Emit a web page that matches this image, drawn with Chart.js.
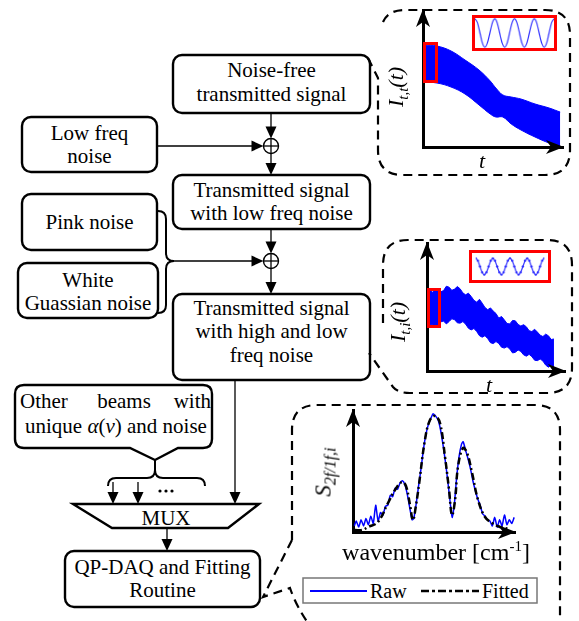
<!DOCTYPE html>
<html>
<head>
<meta charset="utf-8">
<script src="https://cdn.jsdelivr.net/npm/chart.js@4.4.1/dist/chart.umd.min.js"></script>
<style>
  body { margin: 0; background: #fff; }
  #page { position: relative; width: 579px; height: 621px; overflow: hidden; font-family: "Liberation Serif", Tinos, "Times New Roman", "DejaVu Serif", "Noto Serif", serif; }
  #page svg { position: absolute; left: 0; top: 0; font-family: "Liberation Serif", Tinos, "Times New Roman", "DejaVu Serif", "Noto Serif", serif; }
  #page canvas { position: absolute; }
  .lbl { position: absolute; white-space: nowrap; font-style: italic; font-size: 22px; line-height: 1; transform: translate(-50%, -50%); }
  .rot { transform: translate(-50%, -50%) rotate(-90deg); }
  .lbl sub { font-size: 15px; vertical-align: -5px; line-height: 0; }
  .zoomBox { position: absolute; border: 3px solid #f00; box-sizing: border-box; }
  .inset { border: 3px solid #f00; background: #fff; }
</style>
</head>
<body>
<div id="page">
  <svg id="flow" width="579" height="621" viewBox="0 0 579 621"></svg>
  <canvas id="cTop" width="165" height="160" style="left:408px;top:0px"></canvas>
  <canvas id="cTopZoom" class="inset" width="85" height="36" style="left:472px;top:15px"></canvas>
  <canvas id="cMid" width="165" height="150" style="left:412px;top:233px"></canvas>
  <canvas id="cMidZoom" class="inset" width="82" height="33" style="left:469px;top:250px"></canvas>
  <canvas id="cSpec" width="190" height="145" style="left:338px;top:400px"></canvas>
  <div class="zoomBox" style="left:423px;top:42px;width:15px;height:41px"></div>
  <div class="zoomBox" style="left:427px;top:288px;width:14px;height:40px"></div>
  <div class="lbl rot" style="left:396px;top:87px">I<sub>t,t</sub>(t)</div>
  <div class="lbl" style="left:482px;top:161px">t</div>
  <div class="lbl rot" style="left:398px;top:322px">I<sub>t,i</sub>(t)</div>
  <div class="lbl" style="left:489px;top:385px">t</div>
  <div class="lbl rot" style="left:323px;top:472px;font-size:23px">S<sub style="font-size:16px">2f/1f,i</sub></div>
  <div class="lbl" style="left:436px;top:551px;font-style:normal;font-size:24px">wavenumber [cm<sup style="font-size:15px">-1</sup>]</div>
</div>
<script>
// ---- data ----

// top panel: envelope of the noise-free transmitted signal
var topT = [1, 10, 20, 30, 40, 48, 52, 57, 63, 70, 80, 90, 98];
var topUpper = [74.5, 73.7, 70.1, 63.5, 56.2, 48.2, 43.1, 38.0, 36.5, 35.0, 31.4, 28.5, 25.5];
var topLower = [47.4, 46.7, 43.8, 38.7, 30.7, 24.1, 21.9, 21.9, 16.8, 12.4, 7.3, 2.9, 0];

// zoomed carrier (same shape in both panels)
var carrier = [1, 0.71, 0, -0.71, -1, -0.71, 0, 0.71,
               1, 0.71, 0, -0.71, -1, -0.71, 0, 0.71,
               1, 0.71, 0, -0.71, -1, -0.71, 0, 0.71,
               1, 0.71, 0, -0.71, -1, -0.71, 0, 0.71, 1];

// middle panel: envelope with high and low freq noise
var midT = [0, 2, 4, 6, 8, 10, 12, 14, 16, 18, 20, 22, 24, 26, 28, 30, 32, 34, 36, 38, 40, 42, 44, 46,
            48, 50, 52, 54, 56, 58, 60, 62, 64, 66, 68, 70, 72, 74, 76, 78, 80, 82, 84, 86, 88, 90, 92];
var midUpper = [62.5, 64.8, 61.2, 63.9, 64.0, 61.9, 62.8, 66.2, 65.5, 63.0, 64.0, 66.0, 64.2, 61.0, 59.5, 60.8,
                58.3, 55.2, 53.8, 56.0, 53.0, 49.6, 47.9, 49.3, 46.8, 44.9, 41.3, 42.6, 40.0, 37.1, 36.8, 39.5,
                39.2, 36.4, 35.1, 36.2, 34.5, 31.5, 30.8, 32.6, 30.4, 28.0, 26.9, 28.8, 27.5, 24.6, 25.0];
var midLower = [33.5, 35.9, 36.2, 34.2, 35.8, 38.4, 39.0, 36.8, 38.6, 40.8, 40.1, 37.6, 37.4, 38.6, 36.6, 33.4,
                32.1, 33.2, 30.9, 27.6, 26.4, 27.6, 25.3, 22.1, 21.4, 23.0, 21.5, 18.6, 17.9, 19.0, 17.2, 14.1,
                14.6, 16.4, 15.3, 12.6, 11.6, 13.0, 11.2, 8.4, 8.1, 9.4, 7.8, 4.6, 3.0, 4.4, 2.2];

// bottom panel: 2f/1f spectrum
var rawX = [0.8, 2, 3.5, 5, 6.5, 8, 9.5, 11, 12.5, 14, 15.5, 17, 18.5, 20, 21.5, 23, 24.5, 26, 27.5, 29, 30.5, 32, 33.5, 35, 36.5, 37.5, 39, 40.5, 42, 43.5, 45, 46.5, 48, 49.5, 51, 52.5, 54, 55.5, 57, 58.5, 60, 61.2, 62.5, 64, 65.5, 67, 68, 69.5, 71, 72.5, 74, 75.5, 77, 78.5, 80, 81.5, 83, 84.5, 86, 87.5, 89, 90.5, 92, 93.5, 95, 96.5, 98, 99.5];
var rawY = [5, 9, 4, 10, 5, 11, 6, 13, 7, 22, 9, 16, 14, 21, 22, 30, 29, 36, 35, 40, 42, 39, 31, 20, 10, 11, 23, 38, 52, 68, 80, 88, 93, 97, 95, 92, 84, 72, 58, 42, 24, 12, 22, 45, 62, 72, 74, 67, 60, 52, 42, 34, 27, 22, 15, 13, 10, 9, 5, 12, 4, 10, 5, 14, 6, 10, 7, 12];
var fitX = [1.2, 5.6, 9.3, 15.4, 21.6, 25.9, 30.2, 32.7, 35.2, 37.0, 38.9, 40.7, 44.4, 47.5, 50.6, 53.7, 56.8, 59.3, 61.1, 63.0, 64.8, 67.9, 70.4, 73.5, 77.2, 81.5, 85.8, 90.7, 96.9];
var fitY = [1.6, 1.6, 4.1, 8.2, 23.8, 34.4, 41.0, 37.7, 22.1, 9.8, 22.1, 38.5, 75.4, 91.8, 95.1, 89.3, 61.5, 34.4, 13.9, 26.2, 53.3, 68.9, 64.8, 48.4, 26.2, 12.3, 7.4, 4.1, 2.5];

var seriesNames = ['Raw', 'Fitted'];

// ---- flow diagram ----
var parts = [];
function add(s) { parts.push(s); }
function box(x, y, w, h) {
  add('<rect x="' + x + '" y="' + y + '" width="' + w + '" height="' + h + '" rx="9" fill="none" stroke="#000" stroke-width="2.4"/>');
}
function txt(x, y, s, anchor) {
  add('<text x="' + x + '" y="' + y + '" text-anchor="' + (anchor || 'middle') + '">' + s + '</text>');
}
function line(x1, y1, x2, y2) {
  add('<line x1="' + x1 + '" y1="' + y1 + '" x2="' + x2 + '" y2="' + y2 + '" stroke="#000" stroke-width="1.3"/>');
}
function headDown(x, y) {
  add('<polygon points="' + (x - 5.5) + ',' + (y - 12) + ' ' + (x + 5.5) + ',' + (y - 12) + ' ' + x + ',' + y + '" fill="#000"/>');
}
function headRight(x, y) {
  add('<polygon points="' + (x - 12) + ',' + (y - 5.5) + ' ' + (x - 12) + ',' + (y + 5.5) + ' ' + x + ',' + y + '" fill="#000"/>');
}
function arrowDown(x, y1, y2) { line(x, y1, x, y2 - 6); headDown(x, y2); }
function arrowRight(x1, x2, y) { line(x1, y, x2 - 6, y); headRight(x2, y); }
function sum(cx, cy) {
  add('<circle cx="' + cx + '" cy="' + cy + '" r="7.5" fill="#fff" stroke="#000" stroke-width="1.4"/>');
  line(cx - 7.5, cy, cx + 7.5, cy);
  line(cx, cy - 7.5, cx, cy + 7.5);
}
function path(d, w, extra) {
  add('<path d="' + d + '" fill="none" stroke="#000" stroke-width="' + w + '" ' + (extra || '') + '/>');
}

var dash = 'stroke-dasharray="9 6"';
// dashed call-outs
path('M383,22 Q388,10 405,10 L545,10 Q570,10 570,35 L570,150 Q570,175 545,175 L403,175 Q378,175 378,150 L378,78 L366,54', 2.2, dash);
path('M383,323 L383,265 Q383,240 408,240 L547,240 Q572,240 572,265 L572,368 Q572,393 547,393 L410,393 Q398,393 393,387 L369,353', 2.2, dash);
path('M292,540 L292,430 Q292,405 317,405 L535,405 Q560,405 560,430 L560,630', 2.2, dash);
path('M292,540 L263,597 L290,588 Q296,606 310,626', 2.2, dash);

add('<g font-size="21" fill="#000">');
box(173, 55, 197, 58);
txt(271.5, 77, 'Noise-free'); txt(271.5, 101, 'transmitted signal');
box(22, 117, 135, 55);
txt(89.5, 140, 'Low freq'); txt(89.5, 163, 'noise');
box(173, 175, 197, 54);
txt(271.5, 197, 'Transmitted signal'); txt(271.5, 220, 'with low freq noise');
box(22, 194, 135, 56);
txt(89.5, 229, 'Pink noise');
box(18, 263, 140, 55);
txt(88, 287, 'White'); txt(88, 310, 'Guassian noise');
box(173, 294, 197, 86);
txt(271.5, 315, 'Transmitted signal'); txt(271.5, 338, 'with high and low'); txt(271.5, 362, 'freq noise');

path('M24,385 L203,385 Q212,385 212,394 L212,439 Q212,448 203,448 L178,448 L155,460 L130,448 L24,448 Q15,448 15,439 L15,394 Q15,385 24,385 Z', 2.4);
txt(20, 408, 'Other', 'start'); txt(124, 408, 'beams'); txt(211, 408, 'with', 'end');
add('<text x="116" y="433" text-anchor="middle">unique <tspan font-style="italic">α</tspan>(<tspan font-style="italic">ν</tspan>) and noise</text>');
path('M155,460 L155,470 Q155,478 147,478 L116,478 Q108,478 108,486 M155,470 Q155,478 163,478 L197,478 Q205,478 205,486', 2);
arrowDown(113, 482, 504);
arrowDown(138, 482, 504);
add('<circle cx="160" cy="491" r="1.6"/><circle cx="166" cy="491" r="1.6"/><circle cx="172" cy="491" r="1.6"/>');

add('<polygon points="73,504 259,504 228,528 112,528" fill="none" stroke="#000" stroke-width="2.4"/>');
txt(166, 525, 'MUX');
box(65, 551, 195, 56);
txt(162.5, 574, 'QP-DAQ and Fitting'); txt(162.5, 597, 'Routine');

arrowDown(271, 113, 138.5);
sum(271, 146);
arrowRight(157, 263.5, 146);
arrowDown(271, 153.5, 175);
arrowDown(271, 229, 253.5);
sum(271, 261);
path('M158,211 Q166,211 166,219 L166,253 Q166,261 174,261 Q166,261 166,269 L166,305 Q166,313 158,313', 2);
arrowRight(173, 263.5, 261);
arrowDown(271, 268.5, 294);
arrowDown(235, 380, 504);
arrowDown(167, 528, 551);

// legend of the spectrum panel
add('<rect x="303" y="578" width="234" height="25" fill="#fff" stroke="#777" stroke-width="1.5"/>');
add('<line x1="310" y1="591" x2="367" y2="591" stroke="#0000ff" stroke-width="2"/>');
add('<text x="370" y="598" font-size="20">' + seriesNames[0] + '</text>');
add('<line x1="421" y1="591" x2="479" y2="591" stroke="#000" stroke-width="2.5" stroke-dasharray="8 3 3 3"/>');
add('<text x="482" y="598" font-size="20">' + seriesNames[1] + '</text>');
add('</g>');
document.getElementById('flow').innerHTML = parts.join('');

// ---- charts ----
function arrowHead(ctx, x, y, dx, dy) {
  var L = 18, W = 7, px = -dy, py = dx;
  ctx.beginPath();
  ctx.moveTo(x, y);
  ctx.lineTo(x - dx * L + px * W, y - dy * L + py * W);
  ctx.lineTo(x - dx * L * 0.72, y - dy * L * 0.72);
  ctx.lineTo(x - dx * L - px * W, y - dy * L - py * W);
  ctx.closePath();
  ctx.fill();
}
var axisArrows = {
  id: 'axisArrows',
  afterDraw: function(chart) {
    var a = chart.chartArea, ctx = chart.ctx;
    ctx.save();
    ctx.fillStyle = '#000';
    arrowHead(ctx, a.left, a.top - 1, 0, -1);
    arrowHead(ctx, a.right + 1, a.bottom, 1, 0);
    ctx.restore();
  }
};
function axis(min, max) {
  return {
    type: 'linear', min: min, max: max,
    grid: { display: false, drawTicks: false },
    ticks: { display: false },
    border: { display: true, color: '#000', width: 3 }
  };
}
function pts(xs, ys) {
  return xs.map(function(x, i) { return { x: x, y: ys[i] }; });
}
function baseOptions(pad, xr, yr) {
  return {
    responsive: false, animation: false, devicePixelRatio: 1,
    layout: { padding: pad },
    plugins: { legend: { display: false }, tooltip: { enabled: false } },
    scales: { x: axis(xr[0], xr[1]), y: axis(yr[0], yr[1]) }
  };
}
function hidden(min, max) { return { type: 'linear', display: false, min: min, max: max }; }

new Chart(document.getElementById('cTop'), {
  type: 'line',
  data: {
    datasets: [
      { data: pts(topT, topUpper), borderColor: '#0000ff', backgroundColor: '#0000ff', borderWidth: 1, pointRadius: 0, tension: 0.4, fill: '+1' },
      { data: pts(topT, topLower), borderColor: '#0000ff', borderWidth: 1, pointRadius: 0, tension: 0.4, fill: false }
    ]
  },
  options: baseOptions({ left: 15, top: 10, right: 10, bottom: 13 }, [0, 100], [0, 100]),
  plugins: [axisArrows]
});

new Chart(document.getElementById('cMid'), {
  type: 'line',
  data: {
    datasets: [
      { data: pts(midT, midUpper), borderColor: '#0000ff', backgroundColor: '#0000ff', borderWidth: 1, pointRadius: 0, tension: 0, fill: '+1' },
      { data: pts(midT, midLower), borderColor: '#0000ff', borderWidth: 1, pointRadius: 0, tension: 0, fill: false }
    ]
  },
  options: baseOptions({ left: 15, top: 10, right: 12, bottom: 12 }, [0, 100], [0, 100]),
  plugins: [axisArrows]
});

var carrierX = carrier.map(function(v, i) { return i; });
function zoomChart(id, yr, pr) {
  new Chart(document.getElementById(id), {
    type: 'line',
    data: { datasets: [{ data: pts(carrierX, carrier), borderColor: '#2a2aff', borderWidth: 1.2, pointRadius: pr, pointBackgroundColor: '#2a2aff', pointBorderWidth: 0, cubicInterpolationMode: 'monotone', fill: false }] },
    options: {
      responsive: false, animation: false, devicePixelRatio: 1,
      layout: { padding: 0 },
      plugins: { legend: { display: false }, tooltip: { enabled: false } },
      scales: { x: hidden(0, 32), y: hidden(yr[0], yr[1]) }
    }
  });
}
zoomChart('cTopZoom', [-1.05, 1.05], 0);
zoomChart('cMidZoom', [-1.25, 1.25], 1.3);

new Chart(document.getElementById('cSpec'), {
  type: 'line',
  data: {
    datasets: [
      { label: seriesNames[1], data: pts(fitX, fitY), borderColor: '#000', borderWidth: 2.5, borderDash: [7, 3, 2, 3], pointRadius: 0, tension: 0.4, fill: false },
      { label: seriesNames[0], data: pts(rawX, rawY), borderColor: '#0000ff', borderWidth: 1.5, pointRadius: 0, tension: 0.2, fill: false }
    ]
  },
  options: baseOptions({ left: 15, top: 10, right: 13, bottom: 13 }, [0, 100], [0, 100]),
  plugins: [axisArrows]
});
</script>
</body>
</html>
